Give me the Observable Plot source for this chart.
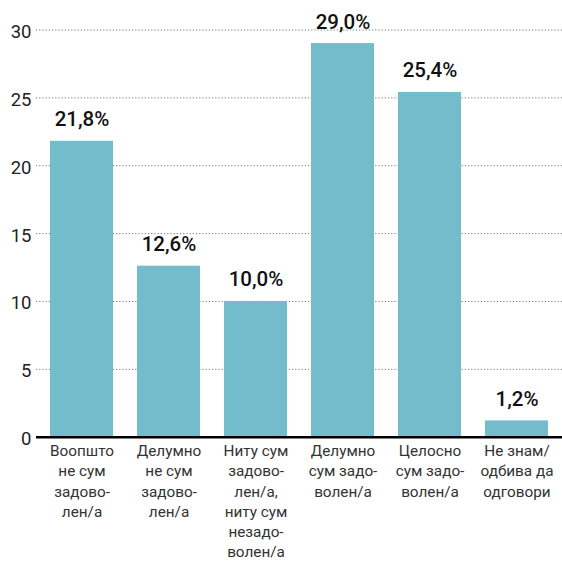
<!DOCTYPE html>
<html>
<head>
<meta charset="utf-8">
<script src="https://cdn.jsdelivr.net/npm/d3@7"></script>
<script src="https://cdn.jsdelivr.net/npm/@observablehq/plot@0.6"></script>
<style>
  html, body { margin: 0; padding: 0; background: #fff; }
  #chart svg { display: block; }
</style>
</head>
<body>
<div id="chart"></div>
<script>
const categories = ["c1", "c2", "c3", "c4", "c5", "c6"];
const tickLabels = [
  "Воопшто\nне сум\nзадово-\nлен/а",
  "Делумно\nне сум\nзадово-\nлен/а",
  "Ниту сум\nзадово-\nлен/а,\nниту сум\nнезадо-\nволен/а",
  "Делумно\nсум задо-\nволен/а",
  "Целосно\nсум задо-\nволен/а",
  "Не знам/\nодбива да\nодговори"
];
const values = [21.8, 12.6, 10.0, 29.0, 25.4, 1.2];
const yTicks = [0, 5, 10, 15, 20, 25, 30];

const data = categories.map((c, i) => ({cat: c, value: values[i]}));
const labelOf = new Map(categories.map((c, i) => [c, tickLabels[i]]));
const fmt = v => v.toFixed(1).replace(".", ",") + "%";

const chart = Plot.plot({
  width: 562,
  height: 562,
  marginTop: 29.5,
  marginBottom: 125.3,
  marginLeft: 36,
  marginRight: 0,
  style: {fontFamily: "Roboto, sans-serif", background: "#fff"},
  x: {domain: categories, paddingInner: 0.28, paddingOuter: 0.14, label: null},
  y: {domain: [0, 30], label: null},
  marks: [
    Plot.gridY(yTicks, {stroke: "#777", strokeOpacity: 1, strokeDasharray: "1.2,2", strokeWidth: 1}),
    Plot.barY(data, {x: "cat", y: "value", fill: "#73bccb"}),
    Plot.ruleY([0], {stroke: "#000", strokeWidth: 2.6}),
    Plot.text(data, {x: "cat", y: "value", text: d => fmt(d.value), lineAnchor: "bottom", dy: -15, fontSize: 20.5, fontWeight: 500, fill: "#111"}),
    Plot.axisY(yTicks, {tickSize: 0, tickPadding: 5, fontSize: 18.5, fill: "#222", dy: 2, tickFormat: d => String(d), label: null}),
    Plot.axisX({tickSize: 0, tickPadding: 5, fontSize: 15.3, lineHeight: 1.31, fill: "#333", tickFormat: d => labelOf.get(d), label: null})
  ]
});
document.getElementById("chart").appendChild(chart);
</script>
</body>
</html>
